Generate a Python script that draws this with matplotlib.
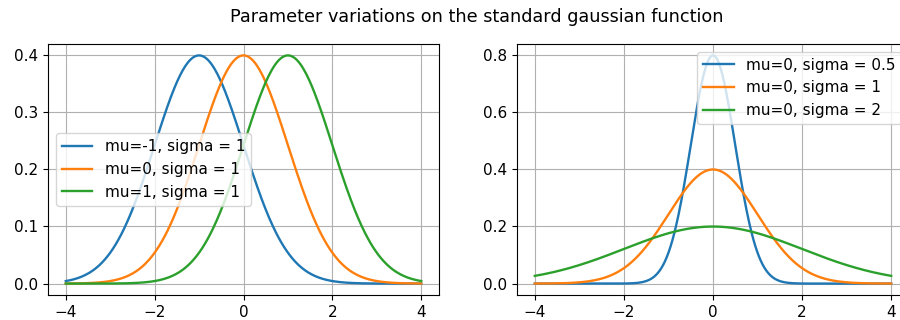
import numpy as np
import matplotlib
matplotlib.use('Agg')
import matplotlib.pyplot as plt

# curve parameters, read from the legends
x_min, x_max = -4, 4
left_mu = [-1, 0, 1]
left_sigma = [1, 1, 1]
right_mu = [0, 0, 0]
right_sigma = [0.5, 1, 2]

plt.rcParams['font.size'] = 11
plt.rcParams['lines.linewidth'] = 1.7


def gaussian(x, mu, sigma):
    return np.exp(-0.5 * ((x - mu) / sigma) ** 2) / (sigma * np.sqrt(2 * np.pi))


x = np.linspace(x_min, x_max, 400)

W, H = 900, 320
fig = plt.figure(figsize=(9, 3.2), dpi=100)
ax1 = fig.add_axes([48 / W, 1 - 295 / H, 391 / W, 251 / H])
# right panel runs slightly past the figure edge, as in the original
ax2 = fig.add_axes([517 / W, 1 - 295 / H, 392 / W, 251 / H])
fig.suptitle('Parameter variations on the standard gaussian function',
             x=0.53, y=0.975, fontsize=12.7)

for mu, sigma in zip(left_mu, left_sigma):
    ax1.plot(x, gaussian(x, mu, sigma), label=f'mu={mu}, sigma = {sigma}')
ax1.legend(loc='center left')
ax1.grid(True)

for mu, sigma in zip(right_mu, right_sigma):
    ax2.plot(x, gaussian(x, mu, sigma), label=f'mu={mu}, sigma = {sigma}')
ax2.legend(loc='upper right')
ax2.grid(True)

for ax in (ax1, ax2):
    ax.set_xticks([-4, -2, 0, 2, 4])

fig.savefig('out.png', dpi=100)
plt.close(fig)
